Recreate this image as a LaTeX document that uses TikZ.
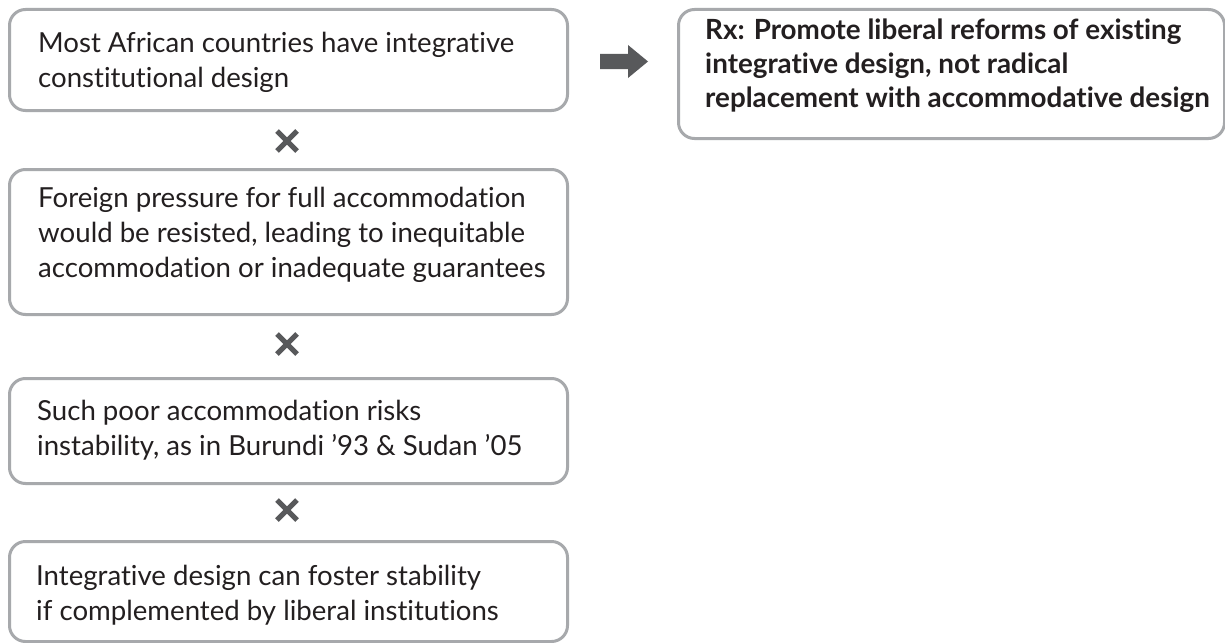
\documentclass[tikz,border=0pt]{standalone}
\usepackage{fontspec}
\setmainfont{Lato}[Ligatures={NoCommon}]
\definecolor{boxgray}{HTML}{A7A9AC}
\definecolor{txtdark}{HTML}{231F20}
\definecolor{markgray}{HTML}{58595B}
\tikzset{
  box/.style={draw=boxgray, line width=3pt, rounded corners=16pt, fill=white, inner sep=0pt, anchor=north west},
  leftbox/.style={box, minimum width=558pt},
  txt/.style={inner sep=0pt, anchor=north west, align=left, text=txtdark, font=\fontsize{27.6}{35}\selectfont},
  rxtxt/.style={txt, font=\fontsize{27.8}{34}\selectfont\bfseries},
  crossline/.style={draw=markgray, line width=5pt},
  blockarrow/.style={fill=markgray, draw=none},
}
\begin{document}
\begin{tikzpicture}[x=1pt,y=-1pt]
\useasboundingbox[fill=white] (0,0) rectangle (1225,642);
% boxes
\node[leftbox, minimum height=101pt] (b1) at (8,8) {};
\node[leftbox, minimum height=145pt] (b2) at (8,168) {};
\node[leftbox, minimum height=105pt] (b3) at (8,377) {};
\node[leftbox, minimum height=100pt] (b4) at (8,540) {};
\node[box, minimum width=546pt, minimum height=129pt] (rx) at (677,8) {};
% texts
\node[txt] (t1) at ([xshift=30pt,yshift=-(44-24.5)*1pt]b1.north west) {\strut Most African countries have integrative\\constitutional design};
\node[txt] (t2) at ([xshift=30pt,yshift=-(39-24.5)*1pt]b2.north west) {\strut Foreign pressure for full accommodation\\would be resisted, leading to inequitable\\accommodation or inadequate guarantees};
\node[txt] (t3) at ([xshift=29pt,yshift=-(43-24.5)*1pt]b3.north west) {\strut Such poor accommodation risks\\instability, as in Burundi ’93 \& Sudan ’05};
\node[txt] (t4) at ([xshift=28pt,yshift=-(45-24.5)*1pt]b4.north west) {\strut Integrative design can foster stability\\if complemented by liberal institutions};
\node[rxtxt] (t5) at ([xshift=28pt,yshift=-(32-24.5)*1pt]rx.north west) {\strut Rx: Promote liberal reforms of existing\\integrative design, not radical\\replacement with accommodative design};
% crosses
\coordinate (x1) at (287,141);
\coordinate (x2) at (287,344);
\coordinate (x3) at (287,510);
\foreach \c in {x1,x2,x3}{
  \draw[crossline] ([shift={(-10,-10)}]\c) -- ([shift={(10,10)}]\c);
  \draw[crossline] ([shift={(-10,10)}]\c) -- ([shift={(10,-10)}]\c);
}
% block arrow
\coordinate (arr) at (600,61.5);
\fill[blockarrow] (arr) ++(0,-7.5) -- ++(28,0) -- ++(0,-9) -- ++(20,16.5) -- ++(-20,16.5) -- ++(0,-9) -- ++(-28,0) -- cycle;
\end{tikzpicture}
\end{document}
